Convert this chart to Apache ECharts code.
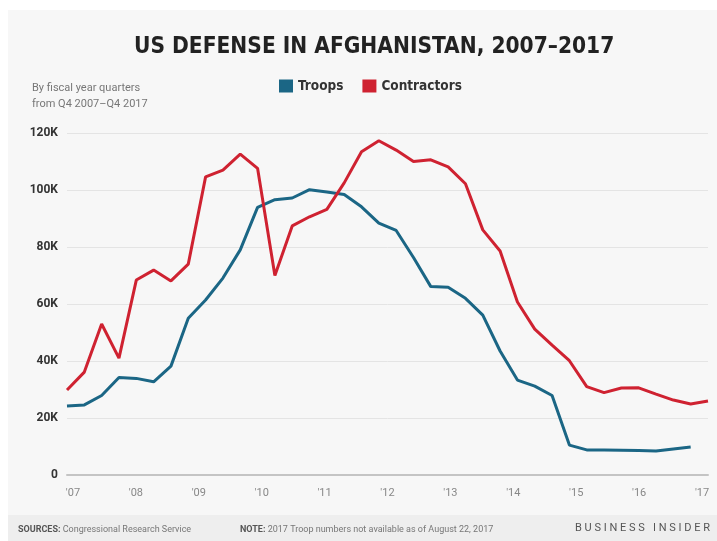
<!DOCTYPE html>
<html>
<head>
<meta charset="utf-8">
<script src="https://cdn.jsdelivr.net/npm/echarts@6/dist/echarts.min.js"></script>
<style>
html,body{margin:0;padding:0;background:#fff;}
#chart{width:717px;height:541px;}
</style>
</head>
<body>
<div id="chart"></div>
<script>
// Quarterly points, Q4 2007 – Q4 2017
const quarters = ['p0','p1','p2','p3','p4','p5','p6','p7','p8','p9','p10','p11','p12','p13','p14','p15','p16','p17','p18','p19','p20','p21','p22','p23','p24','p25','p26','p27','p28','p29','p30','p31','p32','p33','p34','p35','p36','p37'];
const troops = [24200,24600,27900,34200,33900,32700,38200,55000,61400,69100,79000,93900,96600,97200,100100,99300,98400,94100,88400,85800,76300,66100,65900,62000,56100,43500,33300,31200,27900,10500,8800,8800,8700,8600,8400,9100,9800,null];
const contractors = [29800,36100,53000,41000,68400,71900,68100,74000,104600,107000,112600,107600,70000,87400,90600,93200,102500,113400,117300,114000,110000,110600,108100,102200,86000,78600,60700,51200,45600,40100,31000,28900,30500,30600,28400,26300,24900,26000];
const yearTicks = [2007,2008,2009,2010,2011,2012,2013,2014,2015,2016,2017];

const chart = echarts.init(document.getElementById('chart'), null, {renderer:'canvas'});
const FONT = 'Roboto, "Liberation Sans", sans-serif';
const NARROW = '"Liberation Sans Narrow", "DejaVu Sans Condensed", Roboto, sans-serif';

chart.setOption({
  backgroundColor: '#ffffff',
  animation: false,
  graphic: [
    {type:'rect', z:-100, silent:true, shape:{x:8, y:10, width:709, height:531}, style:{fill:'#f7f7f7'}},
    {type:'rect', z:-99, silent:true, shape:{x:8, y:515, width:709, height:26}, style:{fill:'#eeeeee'}},
    {type:'text', left:18, top:525, z:10, style:{
      text:'{b|SOURCES:} Congressional Research Service', font:'9px ' + FONT, fill:'#777',
      rich:{b:{fontWeight:'bold', fontSize:9, fill:'#555', fontFamily:'Roboto'}}
    }},
    {type:'text', left:240, top:525, z:10, style:{
      text:'{b|NOTE:} 2017 Troop numbers not available as of August 22, 2017', font:'9px ' + FONT, fill:'#777',
      rich:{b:{fontWeight:'bold', fontSize:9, fill:'#555', fontFamily:'Roboto'}}
    }},
    {type:'text', left:575, top:523, z:10, style:{
      text:'B U S I N E S S   I N S I D E R', font:'11px ' + FONT, fill:'#555'
    }}
  ],
  title: [
    {text:'US DEFENSE IN AFGHANISTAN, 2007–2017', left:129, top:31,
     textStyle:{fontFamily:NARROW, fontWeight:'bold', fontSize:22.5, color:'#222'}},
    {text:'By fiscal year quarters\nfrom Q4 2007–Q4 2017', left:27, top:75,
     textStyle:{fontFamily:FONT, fontWeight:'normal', fontSize:11, color:'#777', lineHeight:16}}
  ],
  legend: {
    left: 279, top: 79, padding: 0,
    icon: 'rect', itemWidth: 14, itemHeight: 13, itemGap: 19,
    textStyle: {fontFamily:NARROW, fontWeight:'bold', fontSize:13.5, color:'#333'},
    data: ['Troops','Contractors']
  },
  grid: {left:67, right:9, top:133, bottom:66, containLabel:false},
  xAxis: [
    {type:'category', data: quarters, boundaryGap:false, show:false},
    {type:'value', min:2006.905, max:2017.095, position:'bottom',
     axisLine:{show:true, lineStyle:{color:'#c4c4c4', width:2}},
     axisTick:{show:false},
     splitLine:{show:false},
     axisLabel:{customValues: yearTicks, margin:13, color:'#888', fontSize:11, fontFamily:FONT,
       formatter: v => "'" + String(Math.round(v)).slice(2)}}
  ],
  yAxis: {
    type:'value', min:0, max:120000, interval:20000,
    axisLine:{show:false}, axisTick:{show:false},
    splitLine:{lineStyle:{color:'#e4e4e4', width:1}},
    axisLabel:{margin:9, color:'#333', fontWeight:'bold', fontSize:12, fontFamily:FONT,
      formatter: v => v === 0 ? '0' : (v/1000) + 'K'}
  },
  series: [
    {name:'Troops', type:'line', xAxisIndex:0, data: troops, symbol:'none', color:'#1b6685',
     lineStyle:{width:3, color:'#1b6685'}, z:3},
    {name:'Contractors', type:'line', xAxisIndex:0, data: contractors, symbol:'none', color:'#cf2231',
     lineStyle:{width:3, color:'#cf2231'}, z:4}
  ]
});
</script>
</body>
</html>
